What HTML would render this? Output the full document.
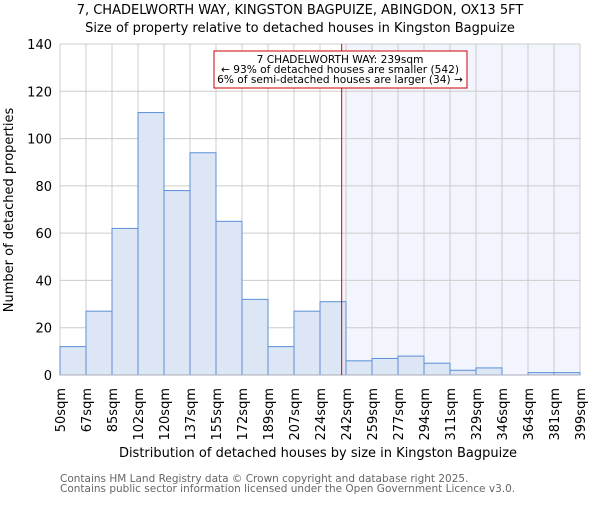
<!DOCTYPE html>
<html><head><meta charset="utf-8"><style>body{margin:0;background:#fff}svg{font-family:"DejaVu Sans","Liberation Sans",sans-serif}</style></head>
<body>
<svg id="chart" width="600" height="500">
<text x="300" y="14" text-anchor="middle" font-size="13">7, CHADELWORTH WAY, KINGSTON BAGPUIZE, ABINGDON, OX13 5FT</text>
<text x="300" y="32" text-anchor="middle" font-size="13">Size of property relative to detached houses in Kingston Bagpuize</text>
<g id="plot"></g>
<text x="318" y="457" text-anchor="middle" font-size="13">Distribution of detached houses by size in Kingston Bagpuize</text>
<text transform="translate(13,210) rotate(-90)" text-anchor="middle" font-size="13">Number of detached properties</text>
<text x="60" y="482" font-size="10.5" fill="#666">Contains HM Land Registry data © Crown copyright and database right 2025.</text>
<text x="60" y="492" font-size="10.5" fill="#666">Contains public sector information licensed under the Open Government Licence v3.0.</text>
</svg>
<script>
const categories=["50sqm","67sqm","85sqm","102sqm","120sqm","137sqm","155sqm","172sqm","189sqm","207sqm","224sqm","242sqm","259sqm","277sqm","294sqm","311sqm","329sqm","346sqm","364sqm","381sqm","399sqm"];
const counts=[12,27,62,111,78,94,65,32,12,27,31,6,7,8,5,2,3,0,1,1];
const yTicks=[0,20,40,60,80,100,120,140];
const marker=239;
const binEdges=[50,67,85,102,120,137,155,172,189,207,224,242,259,277,294,311,329,346,364,381,399];
const L=60,R=580,T=44,B=375,yMax=140;
const n=counts.length,bw=(R-L)/n;
const y=v=>B-(v/yMax)*(B-T);
const xi=i=>L+i*bw;
function xv(v){for(let i=0;i<binEdges.length-1;i++){if(v<=binEdges[i+1])return xi(i)+(v-binEdges[i])/(binEdges[i+1]-binEdges[i])*bw;}return R;}
const NS="http://www.w3.org/2000/svg",g=document.getElementById('plot');
function mk(t,a,p){const e=document.createElementNS(NS,t);for(const k in a)e.setAttribute(k,a[k]);(p||g).appendChild(e);return e;}
const mx=xv(marker);
const sh=mk('rect',{x:mx,y:T,width:R-mx,height:B-T,fill:'#f2f5fd'});


for(let i=0;i<=n;i++){const l=mk('line',{x1:xi(i),x2:xi(i),y1:T,y2:B,stroke:'#ccc','stroke-width':1});

}
yTicks.forEach(t=>{const l=mk('line',{x1:L,x2:R,y1:y(t),y2:y(t),stroke:'#ccc','stroke-width':1});


const tx=mk('text',{x:L-8,y:y(t)+5,'text-anchor':'end','font-size':13});tx.textContent=t;

});
counts.forEach((c,i)=>{if(c<=0)return;const r=mk('rect',{x:xi(i),y:y(c),width:bw,height:B-y(c),fill:'#dce6f4',stroke:'#5b8fd6','stroke-width':1});

});
const ax=mk('line',{x1:L,x2:R,y1:B,y2:B,stroke:'#aab','stroke-width':1});


categories.forEach((c,i)=>{const tx=mk('text',{transform:`translate(${xi(i)+5},388) rotate(-90)`,'text-anchor':'end','font-size':13});tx.textContent=c;

});
const ml=mk('line',{x1:mx,x2:mx,y1:T,y2:B,stroke:'#dd0000','stroke-width':1});


const bx=mk('rect',{x:214,y:51,width:253,height:37,fill:'#fff',stroke:'#cc0000','stroke-width':1});


["7 CHADELWORTH WAY: 239sqm","← 93% of detached houses are smaller (542)","6% of semi-detached houses are larger (34) →"].forEach((s,k)=>{const tx=mk('text',{x:340,y:63+k*10,'text-anchor':'middle','font-size':10.6});tx.textContent=s;

});
</script>
</body></html>
